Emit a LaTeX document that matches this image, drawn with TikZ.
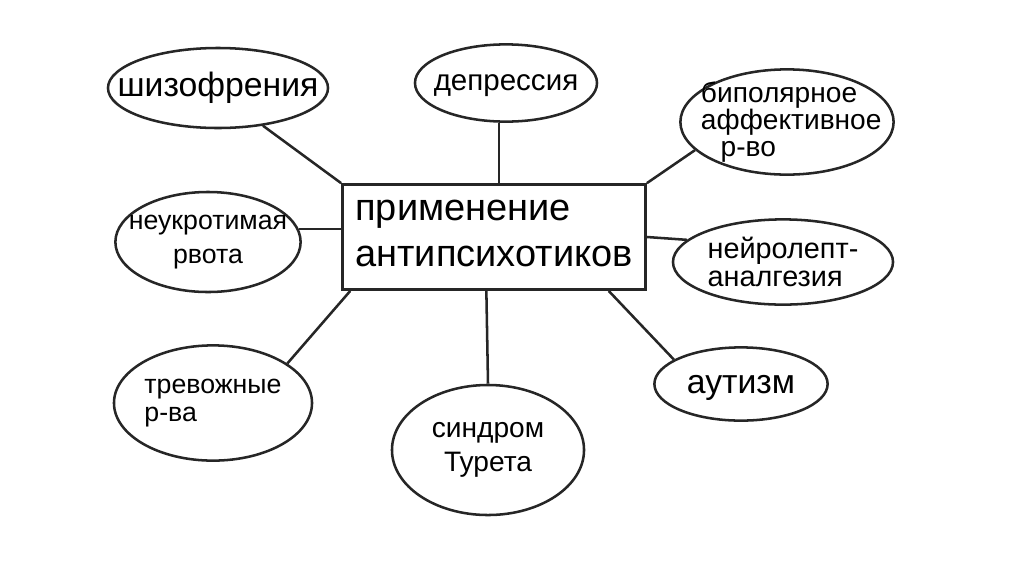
\documentclass[tikz,border=0pt]{standalone}
\usepackage{fontspec}
\setmainfont{Liberation Sans}
\usetikzlibrary{shapes.geometric,calc}

\begin{document}
\begin{tikzpicture}[x=0.025cm,y=-0.025cm,
  bubble/.style={draw=black!85,ellipse,line width=1.8pt,inner sep=-0.9cm,font=\fontsize{21}{20}\selectfont},
  link/.style={draw=black!85,line width=1.8pt}]
\useasboundingbox (0,0) rectangle (1024,574);
% centre
\node[draw=black!85,line width=1.8pt,minimum width=7.58cm,minimum height=2.63cm,align=left,
  font=\fontsize{27}{33}\selectfont] (main) at (494,237) {применение\\антипсихотиков\vphantom{р}};
% bubbles round it
\node[bubble,minimum width=5.5cm,minimum height=2cm,font=\fontsize{24}{20}\selectfont] (shiz) at (218,88) {шизофрения};
\node[bubble,minimum width=4.55cm,minimum height=1.93cm,text depth=0pt] (depr) at (506,83) {депрессия};
\node[bubble,minimum width=5.33cm,minimum height=2.63cm,align=left,font=\fontsize{20}{19}\selectfont] (bipol) at (787,122) {\hspace{0.3em}биполярное\\\hspace{0.3em}аффективное\\\hspace{1em}р-во};
\node[bubble,minimum width=4.63cm,minimum height=2.5cm,align=center,font=\fontsize{19}{24}\selectfont] (vomit) at (208,242) {неукротимая\\рвота};
\node[bubble,minimum width=5.5cm,minimum height=2.13cm,align=left,font=\fontsize{20.5}{19.5}\selectfont] (neuro) at (783,262) {нейролепт-\\аналгезия};
\node[bubble,minimum width=4.95cm,minimum height=2.88cm,align=left,font=\fontsize{19}{20}\selectfont] (anx) at (213,403) {тревожные\\р-ва};
\node[bubble,minimum width=4.8cm,minimum height=3.25cm,align=center,font=\fontsize{20}{24}\selectfont] (tour) at (488,450) {синдром\\Турета};
\node[bubble,minimum width=4.33cm,minimum height=1.83cm,text depth=0pt,font=\fontsize{24}{20}\selectfont] (aut) at (741,384) {аутизм};
% links
\draw[link] (shiz.-40) -- (main.north west);
\draw[link] (depr.-100) -- (depr.-100 |- main.north);
\draw[link] (bipol.-163) -- (main.north east);
\draw[link] (vomit.8) -- (vomit.8 -| main.west);
\draw[link] (main.east) -- (neuro.167);
\draw[link] (anx.28) -- ($(main.south west)!0.03!(main.south east)$);
\draw[link] ($(main.south)!0.05!(main.south west)$) -- (tour.north);
\draw[link] ($(main.south)!0.75!(main.south east)$) -- (aut.160);
\end{tikzpicture}
\end{document}
